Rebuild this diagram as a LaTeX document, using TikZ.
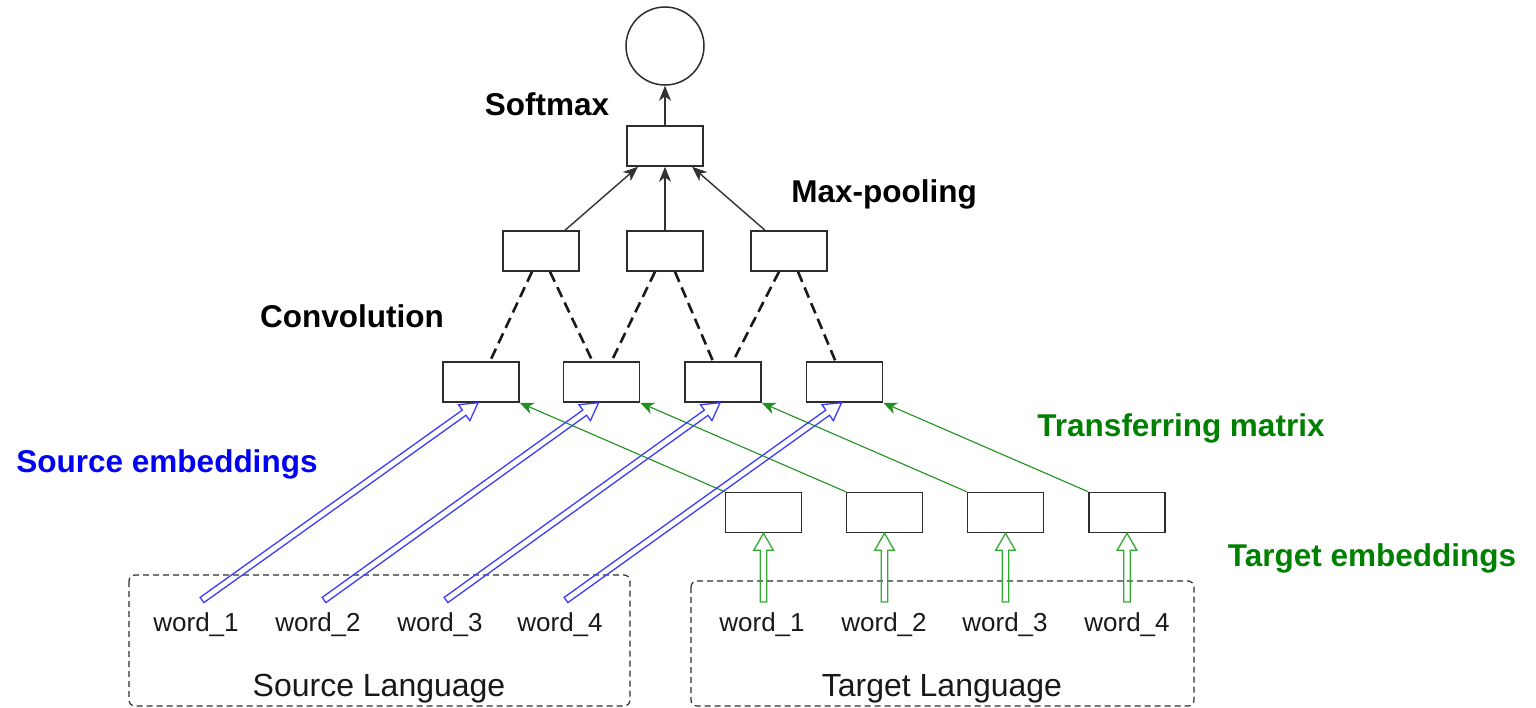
\documentclass[tikz,border=0pt]{standalone}
\usepackage{fontspec}
\setmainfont{Liberation Sans}
\usetikzlibrary{arrows.meta,calc}
\definecolor{boxgray}{RGB}{45,45,45}
\definecolor{arrgray}{RGB}{50,50,50}
\definecolor{txtgreen}{RGB}{0,128,0}
\definecolor{lgreen}{RGB}{30,145,30}
\definecolor{hgreen}{RGB}{50,170,50}
\definecolor{hblue}{RGB}{60,60,255}
\definecolor{txtblue}{RGB}{0,0,245}
\newcommand\hollowarr[3]{%
  \coordinate (ha-h) at ($(#2)!8.5pt!(#1)$);
  \draw[#3] ($(#1)!1.6pt!90:(#2)$) -- ($(ha-h)!1.6pt!90:(#2)$) -- ($(ha-h)!4.9pt!90:(#2)$) -- (#2)
    -- ($(ha-h)!4.9pt!-90:(#2)$) -- ($(ha-h)!1.6pt!-90:(#2)$) -- ($(#1)!1.6pt!-90:(#2)$) -- cycle;}
\begin{document}
\begin{tikzpicture}[x=0.5pt,y=-0.5pt,
  box/.style={draw=boxgray,line width=0.75pt,minimum width=38pt,minimum height=20pt,inner sep=0pt},
  lbl/.style={font=\fontsize{15.75}{18}\selectfont\bfseries,anchor=base,inner sep=0pt},
  word/.style={font=\fontsize{13}{15}\selectfont,text=black!90,anchor=base,inner sep=0pt},
  lang/.style={font=\fontsize{16}{19}\selectfont,text=black!90,anchor=base,inner sep=0pt},
  uparrow/.style={draw=arrgray,line width=0.7pt,-{Stealth[length=7.5pt,width=6pt,inset=2.2pt]}},
  convline/.style={draw=black!90,line width=1.3pt,dash pattern=on 5.5pt off 3pt},
  trans/.style={draw=lgreen,line width=0.55pt,-{Stealth[length=7pt,width=6pt,inset=2.2pt]}},
  frame/.style={draw=boxgray,line width=0.6pt,dash pattern=on 3pt off 2pt,rounded corners=3pt},
  bluearr/.style={draw=hblue,line width=0.65pt,line join=miter},
  greenarr/.style={draw=hgreen,line width=0.65pt,line join=miter}]
\useasboundingbox (0,0) rectangle (1536,707);

% output
\node[draw=boxgray,line width=0.75pt,circle,minimum size=39pt,inner sep=0pt] (out) at (665,46) {};
\node[box] (sm) at (665,146) {};
% pooling
\node[box] (p1) at (541,251) {};
\node[box] (p2) at (665,251) {};
\node[box] (p3) at (789,251) {};
% convolution
\node[box] (c1) at (481,382) {};
\node[box] (c2) at (601.5,382) {};
\node[box] (c3) at (723,382) {};
\node[box] (c4) at (844.5,382) {};
% target embeddings
\node[box] (t1) at (763.5,512.5) {};
\node[box] (t2) at (884.5,512.5) {};
\node[box] (t3) at (1005.5,512.5) {};
\node[box] (t4) at (1127,512.5) {};

% labels
\node[lbl] (lsoft) at (547,115) {Softmax};
\node[lbl] (lmax) at (884,202) {Max-pooling};
\node[lbl] (lconv) at (352,327) {Convolution};
\node[lbl,text=txtblue] (lsrc) at (167,472) {Source embeddings};
\node[lbl,text=txtgreen] (ltrans) at (1181,436) {Transferring matrix};
\node[lbl,text=txtgreen] (ltgt) at (1372,566) {Target embeddings};

% words
\node[word] (sw1) at (196,631) {word\_1};
\node[word] (sw2) at (318,631) {word\_2};
\node[word] (sw3) at (440,631) {word\_3};
\node[word] (sw4) at (560,631) {word\_4};
\node[word] (tw1) at (762,631) {word\_1};
\node[word] (tw2) at (884,631) {word\_2};
\node[word] (tw3) at (1005,631) {word\_3};
\node[word] (tw4) at (1127,631) {word\_4};
\node[lang] (srclang) at (379,696) {Source Language};
\node[lang] (tgtlang) at (942,696) {Target Language};

% frames
\draw[frame] (129,575) rectangle (630,706);
\draw[frame] (691,581) rectangle (1194,706);

% softmax arrows
\draw[uparrow] (sm.north) -- (out.south);
\draw[uparrow] ([xshift=12pt]p1.north) -- ([xshift=-13.5pt]sm.south);
\draw[uparrow] (p2.north) -- (sm.south);
\draw[uparrow] ([xshift=-12pt]p3.north) -- ([xshift=13.5pt]sm.south);

% convolution dashed lines
\draw[convline] ([xshift=-4.5pt]p1.south) -- ([xshift=4.5pt]c1.north);
\draw[convline] ([xshift=4.5pt]p1.south) -- ([xshift=-4.5pt]c2.north);
\draw[convline] ([xshift=-5pt]p2.south) -- ([xshift=5pt]c2.north);
\draw[convline] ([xshift=5pt]p2.south) -- ([xshift=-5pt]c3.north);
\draw[convline] ([xshift=-5pt]p3.south) -- ([xshift=5pt]c3.north);
\draw[convline] ([xshift=4.5pt]p3.south) -- ([xshift=-4.5pt]c4.north);

% transferring matrix
\draw[trans] (t1.north west) -- (c1.south east);
\draw[trans] (t2.north west) -- (c2.south east);
\draw[trans] (t3.north west) -- (c3.south east);
\draw[trans] (t4.north west) -- (c4.south east);

% source and target embeddings (hollow arrows)
\foreach \i in {1,2,3,4}{
  \coordinate (bs\i) at ($(sw\i.base)+(6,-31)$);
  \coordinate (be\i) at ($(c\i.south)+(-3,0)$);
  \hollowarr{bs\i}{be\i}{bluearr}
  \coordinate (gs\i) at ($(t\i.south |- tw\i.base)+(0,-29)$);
  \hollowarr{gs\i}{t\i.south}{greenarr}
}
\end{tikzpicture}
\end{document}
